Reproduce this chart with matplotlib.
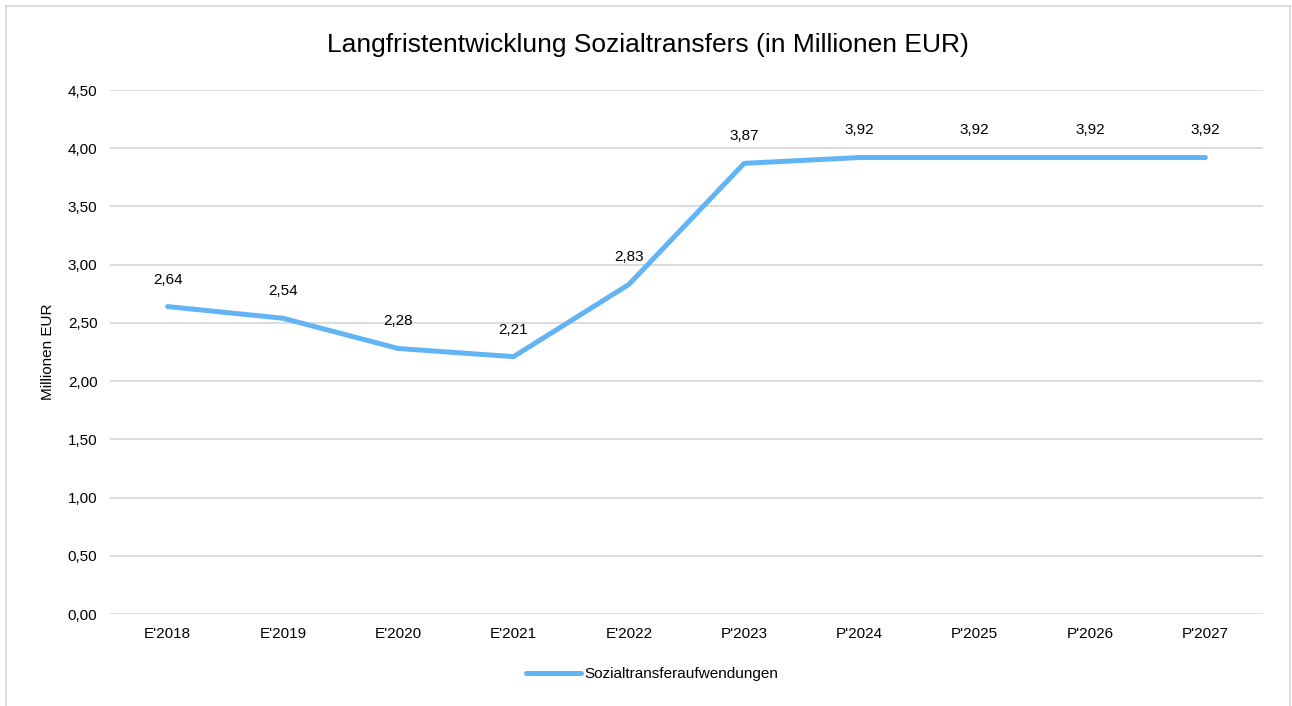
import matplotlib.pyplot as plt
from matplotlib.patches import Rectangle

plt.rcParams['font.family'] = ['Liberation Sans', 'DejaVu Sans']

# Daten
jahre = ["E'2018", "E'2019", "E'2020", "E'2021", "E'2022",
         "P'2023", "P'2024", "P'2025", "P'2026", "P'2027"]
werte = [2.64, 2.54, 2.28, 2.21, 2.83, 3.87, 3.92, 3.92, 3.92, 3.92]
serie = "Sozialtransferaufwendungen"

linienfarbe = '#63b4f4'
gitterfarbe = '#d9d9d9'

W, H = 1292, 706
fig = plt.figure(figsize=(W / 100, H / 100), dpi=100)
ax = fig.add_axes([110 / W, 1 - 614 / H, 1153 / W, 524 / H])

x = range(len(jahre))
ax.plot(x, werte, color=linienfarbe, linewidth=3.6, solid_capstyle='round',
        label=serie, zorder=3)

# Datenbeschriftungen
for xi, w in zip(x, werte):
    ax.annotate(f"{w:.2f}".replace('.', ','), (xi, w), xytext=(0, 19.5),
                textcoords='offset points', ha='center', va='center',
                fontsize=11)

ax.set_xlim(-0.5, len(jahre) - 0.5)
ax.set_ylim(0, 4.5)
ax.set_yticks([i * 0.5 for i in range(10)])
ax.set_yticklabels([f"{i * 0.5:.2f}".replace('.', ',') for i in range(10)])
ax.set_xticks(list(x))
ax.set_xticklabels(jahre)
ax.tick_params(length=0, labelsize=11, pad=9)
ax.grid(axis='y', color=gitterfarbe, linewidth=1.3)
ax.set_axisbelow(True)
for s in ax.spines.values():
    s.set_visible(False)

fig.text(48 / W, 1 - 352 / H, "Millionen EUR", rotation=90, fontsize=11,
         ha='center', va='center')
fig.text(648 / W, 1 - 45 / H,
         "Langfristentwicklung Sozialtransfers (in Millionen EUR)",
         fontsize=19, ha='center', va='center')

fig.legend(handles=ax.get_lines(), loc='center',
           bbox_to_anchor=(652 / W, 1 - 674 / H), frameon=False,
           fontsize=11, handlelength=3.6, handletextpad=0.2)

# Rahmen des Diagrammbereichs
fig.patches.append(Rectangle((6 / W, -0.01), 1284 / W, 1 - 6 / H + 0.01,
                             transform=fig.transFigure, fill=False,
                             edgecolor=gitterfarbe, linewidth=1.3))

fig.savefig('out.png', dpi=100)
